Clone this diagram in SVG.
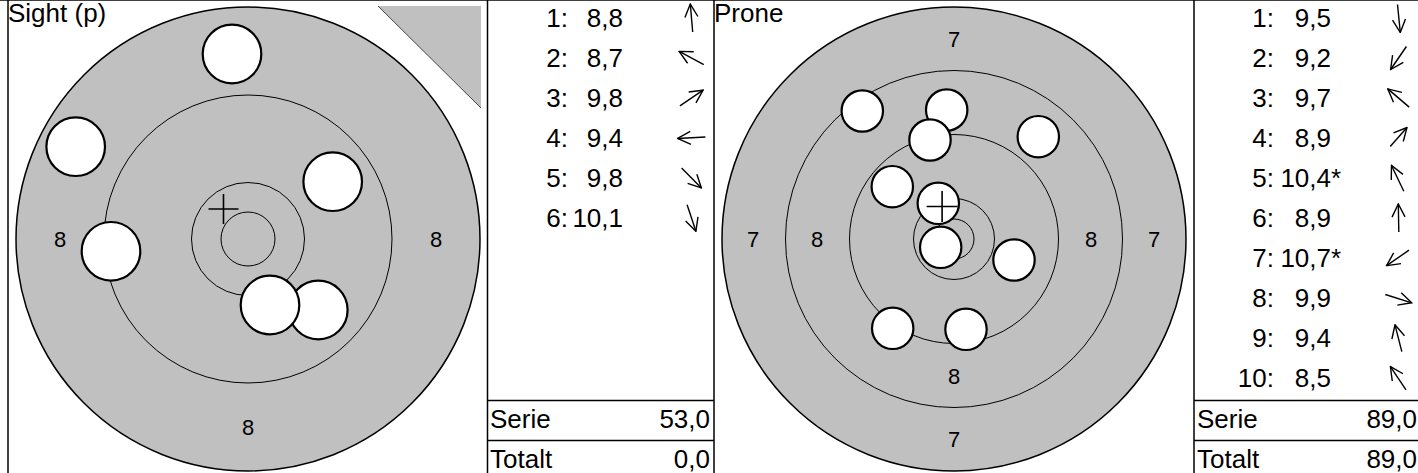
<svg xmlns="http://www.w3.org/2000/svg" width="1418" height="473" viewBox="0 0 1418 473">
<style>
text{font-family:"Liberation Sans",Arial,sans-serif;fill:#000}
.t{font-size:26px}
.lab{font-size:22px;text-anchor:middle}
.end{text-anchor:end}
.ring{fill:none;stroke:#000;stroke-width:1}
.outer{fill:#c0c0c0;stroke:#000;stroke-width:1.5}
.shot{fill:#fff;stroke:#000;stroke-width:2.2}
.cross{stroke:#000;stroke-width:1.6;fill:none}
.border{stroke:#000;stroke-width:1.5;fill:none}
.arr{stroke:#000;stroke-width:1.4;fill:none;marker-end:url(#ah)}
</style>
<defs>
<marker id="ah" markerUnits="userSpaceOnUse" viewBox="-15 -8 16 16" markerWidth="16" markerHeight="16" refX="0" refY="0" orient="auto">
<path d="M-13,-6.5 L0,0 L-13,6.5" fill="none" stroke="#000" stroke-width="1.4"/>
</marker>
</defs>
<rect width="1418" height="473" fill="#fff"/>

<g id="frame">
<line class="border" x1="0" y1="0" x2="1418" y2="0"/>
<line class="border" x1="8" y1="0" x2="8" y2="473"/>
<line class="border" x1="487.5" y1="0" x2="487.5" y2="473"/>
<line class="border" x1="714" y1="0" x2="714" y2="473"/>
<line class="border" x1="1194" y1="0" x2="1194" y2="473"/>
<line class="border" x1="487.5" y1="400.5" x2="714" y2="400.5" stroke-width="2"/>
<line class="border" x1="487.5" y1="440.5" x2="714" y2="440.5" stroke-width="2"/>
<line class="border" x1="1194" y1="400.5" x2="1418" y2="400.5" stroke-width="2"/>
<line class="border" x1="1194" y1="440.5" x2="1418" y2="440.5" stroke-width="2"/>
</g>

<g id="target-sight">
<text class="t" x="8" y="22">Sight (p)</text>
<polygon points="378,6 481,6 481,108" fill="#c0c0c0"/>
<line x1="378" y1="6" x2="481" y2="108" stroke="#444" stroke-width="1"/>
<circle class="outer" cx="248" cy="239" r="232"/>
<circle class="ring" cx="248" cy="239" r="144"/>
<circle class="ring" cx="248" cy="239" r="56.5"/>
<circle class="ring" cx="248" cy="239" r="27"/>
<text class="lab" x="60" y="247">8</text>
<text class="lab" x="436" y="247">8</text>
<text class="lab" x="248" y="59">8</text>
<text class="lab" x="248" y="435">8</text>
<path class="cross" d="M208.5,209H238.5M223.5,194V224"/>
<circle class="shot" cx="232" cy="54" r="29.3"/>
<circle class="shot" cx="75.7" cy="146.7" r="29.3"/>
<circle class="shot" cx="332.7" cy="181.7" r="29.3"/>
<circle class="shot" cx="111" cy="251.3" r="29.3"/>
<circle class="shot" cx="318.3" cy="310" r="29.3"/>
<circle class="shot" cx="270" cy="305" r="29.3"/>
</g>

<g id="table-sight">
<text class="t end" x="568" y="27">1:</text><text class="t end" x="623" y="27">8,8</text>
<text class="t end" x="568" y="67">2:</text><text class="t end" x="623" y="67">8,7</text>
<text class="t end" x="568" y="107">3:</text><text class="t end" x="623" y="107">9,8</text>
<text class="t end" x="568" y="147">4:</text><text class="t end" x="623" y="147">9,4</text>
<text class="t end" x="568" y="187">5:</text><text class="t end" x="623" y="187">9,8</text>
<text class="t end" x="568" y="227">6:</text><text class="t end" x="623" y="227">10,1</text>
<text class="t" x="490" y="428">Serie</text><text class="t end" x="710" y="428">53,0</text>
<text class="t" x="490" y="468">Totalt</text><text class="t end" x="710" y="468">0,0</text>
</g>

<g id="target-prone">
<text class="t" x="714" y="22">Prone</text>
<circle class="outer" cx="954" cy="239" r="232"/>
<circle class="ring" cx="954" cy="239" r="168.5"/>
<circle class="ring" cx="954" cy="239" r="104.5"/>
<circle class="ring" cx="954" cy="239" r="40.5"/>
<circle class="ring" cx="954" cy="239" r="20"/>
<text class="lab" x="954" y="47">7</text>
<text class="lab" x="954" y="446.5">7</text>
<text class="lab" x="753" y="247">7</text>
<text class="lab" x="1154" y="247">7</text>
<text class="lab" x="954" y="110">8</text>
<text class="lab" x="954" y="384">8</text>
<text class="lab" x="817" y="247">8</text>
<text class="lab" x="1091" y="247">8</text>
<circle class="shot" cx="966" cy="329.3" r="20.7"/>
<circle class="shot" cx="892.7" cy="328.3" r="20.7"/>
<circle class="shot" cx="892.3" cy="186.7" r="20.7"/>
<circle class="shot" cx="1038.3" cy="136.7" r="20.7"/>
<circle class="shot" cx="938.3" cy="203.3" r="20.7"/>
<circle class="shot" cx="946.7" cy="110" r="20.7"/>
<circle class="shot" cx="940.7" cy="247.3" r="20.7"/>
<circle class="shot" cx="1014" cy="260" r="20.7"/>
<circle class="shot" cx="930" cy="140" r="20.7"/>
<circle class="shot" cx="862.3" cy="111" r="20.7"/>
<path class="cross" d="M926.6,206.5H957.6M942.1,191V222"/>
</g>

<g id="table-prone">
<text class="t end" x="1274" y="27">1:</text><text class="t end" x="1331" y="27">9,5</text>
<text class="t end" x="1274" y="67">2:</text><text class="t end" x="1331" y="67">9,2</text>
<text class="t end" x="1274" y="107">3:</text><text class="t end" x="1331" y="107">9,7</text>
<text class="t end" x="1274" y="147">4:</text><text class="t end" x="1331" y="147">8,9</text>
<text class="t end" x="1274" y="187">5:</text><text class="t end" x="1331" y="187">10,4</text><text class="t" x="1331" y="187">*</text>
<text class="t end" x="1274" y="227">6:</text><text class="t end" x="1331" y="227">8,9</text>
<text class="t end" x="1274" y="267">7:</text><text class="t end" x="1331" y="267">10,7</text><text class="t" x="1331" y="267">*</text>
<text class="t end" x="1274" y="307">8:</text><text class="t end" x="1331" y="307">9,9</text>
<text class="t end" x="1274" y="347">9:</text><text class="t end" x="1331" y="347">9,4</text>
<text class="t end" x="1274" y="387">10:</text><text class="t end" x="1331" y="387">8,5</text>
<text class="t" x="1197" y="428">Serie</text><text class="t end" x="1417" y="428">89,0</text>
<text class="t" x="1197" y="468">Totalt</text><text class="t end" x="1417" y="468">89,0</text>
</g>

<g id="connectors">
<line class="arr" x1="692.7" y1="32" x2="690.3" y2="4.1"/>
<line class="arr" x1="703.8" y1="64.6" x2="679.2" y2="51.4"/>
<line class="arr" x1="679.9" y1="105.8" x2="703.1" y2="90.2"/>
<line class="arr" x1="705.4" y1="137" x2="677.6" y2="138.5"/>
<line class="arr" x1="681.6" y1="168" x2="701.4" y2="188"/>
<line class="arr" x1="687.1" y1="204.7" x2="695.9" y2="231.3"/>
<line class="arr" x1="1397.5" y1="4.5" x2="1400.3" y2="32.5"/>
<line class="arr" x1="1406.4" y1="46.5" x2="1390.6" y2="69.5"/>
<line class="arr" x1="1409.2" y1="107.1" x2="1387.8" y2="88.9"/>
<line class="arr" x1="1390.2" y1="146.5" x2="1407" y2="127.5"/>
<line class="arr" x1="1403.8" y1="191.2" x2="1391.5" y2="165.5"/>
<line class="arr" x1="1398.8" y1="232" x2="1398.3" y2="204"/>
<line class="arr" x1="1409" y1="250.2" x2="1386.6" y2="265.6"/>
<line class="arr" x1="1385.3" y1="294.5" x2="1411.7" y2="302.8"/>
<line class="arr" x1="1401.8" y1="351.6" x2="1395" y2="324.8"/>
<line class="arr" x1="1406" y1="389.8" x2="1390.4" y2="366.6"/>
</g>
</svg>
